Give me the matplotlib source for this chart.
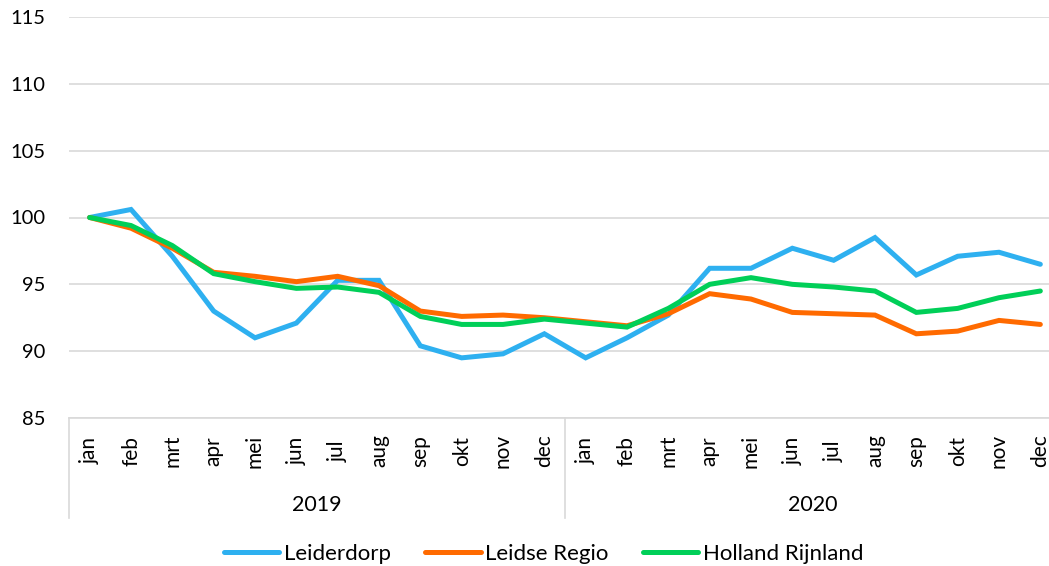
import matplotlib.pyplot as plt
from matplotlib.lines import Line2D
import matplotlib.transforms as mtransforms

# Data (index, jan 2019 = 100)
months = ['jan', 'feb', 'mrt', 'apr', 'mei', 'jun', 'jul', 'aug', 'sep', 'okt', 'nov', 'dec']
years = ['2019', '2020']

leiderdorp = [100.0, 100.6, 97.1, 93.0, 91.0, 92.1, 95.3, 95.3, 90.4, 89.5, 89.8, 91.3,
              89.5, 91.0, 92.7, 96.2, 96.2, 97.7, 96.8, 98.5, 95.7, 97.1, 97.4, 96.5]
leidse_regio = [100.0, 99.2, 97.7, 95.9, 95.6, 95.2, 95.6, 94.9, 93.0, 92.6, 92.7, 92.5,
                92.2, 91.9, 92.8, 94.3, 93.9, 92.9, 92.8, 92.7, 91.3, 91.5, 92.3, 92.0]
holland_rijnland = [100.0, 99.4, 97.9, 95.8, 95.2, 94.7, 94.8, 94.4, 92.6, 92.0, 92.0, 92.4,
                    92.1, 91.8, 93.2, 95.0, 95.5, 95.0, 94.8, 94.5, 92.9, 93.2, 94.0, 94.5]

series = [('Leiderdorp', leiderdorp, '#2EB0F0'),
          ('Leidse Regio', leidse_regio, '#FF6A00'),
          ('Holland Rijnland', holland_rijnland, '#00CF58')]

plt.rcParams['font.family'] = ['Lato', 'DejaVu Sans']

W, H = 1049, 566
fig = plt.figure(figsize=(W / 100, H / 100), dpi=100)
# plot area runs a little past the right edge of the picture, as in the reference
ax = fig.add_axes([69 / W, 1 - 418 / H, (1061 - 69) / W, (418 - 17) / H])

x = list(range(len(leiderdorp)))
for name, vals, col in series:
    ax.plot(x, vals, color=col, lw=3.6, label=name, solid_capstyle='round',
            solid_joinstyle='miter', zorder=3)

ax.set_xlim(-0.5, len(x) - 0.5)
ax.set_ylim(85, 115)
ax.set_yticks(range(85, 116, 5))
ax.yaxis.grid(True, color='#D9D9D9', lw=1.2)
ax.set_axisbelow(True)
for s in ['top', 'right', 'left']:
    ax.spines[s].set_visible(False)
ax.spines['bottom'].set_color('#D9D9D9')
ax.spines['bottom'].set_linewidth(1.2)
ax.tick_params(axis='y', length=0, labelsize=14.5, pad=17, colors='#000000')
ax.tick_params(axis='x', length=0, labelbottom=False)

# Two-level category axis
trans = mtransforms.blended_transform_factory(ax.transData, ax.transAxes)
px = 1.0 / (418 - 17)  # one pixel in axes units
for i in x:
    ax.text(i, -33 * px, months[i % 12], transform=trans, rotation=90,
            ha='center', va='center', fontsize=15)
for k, yr in enumerate(years):
    ax.text(k * 12 + 5.5, -87 * px, yr, transform=trans, ha='center',
            va='center', fontsize=15.5)
for xb in [-0.5, 11.5, 23.5]:
    ax.add_line(Line2D([xb, xb], [0, -100 * px], transform=trans, color='#D9D9D9',
                       lw=1.2, clip_on=False))

fig.legend(loc='center', bbox_to_anchor=(543.5 / W, 12 / H), ncol=3, frameon=False,
           fontsize=16, handlelength=2.5, columnspacing=1.55, handletextpad=0.2)

fig.savefig('out.png', dpi=100)
